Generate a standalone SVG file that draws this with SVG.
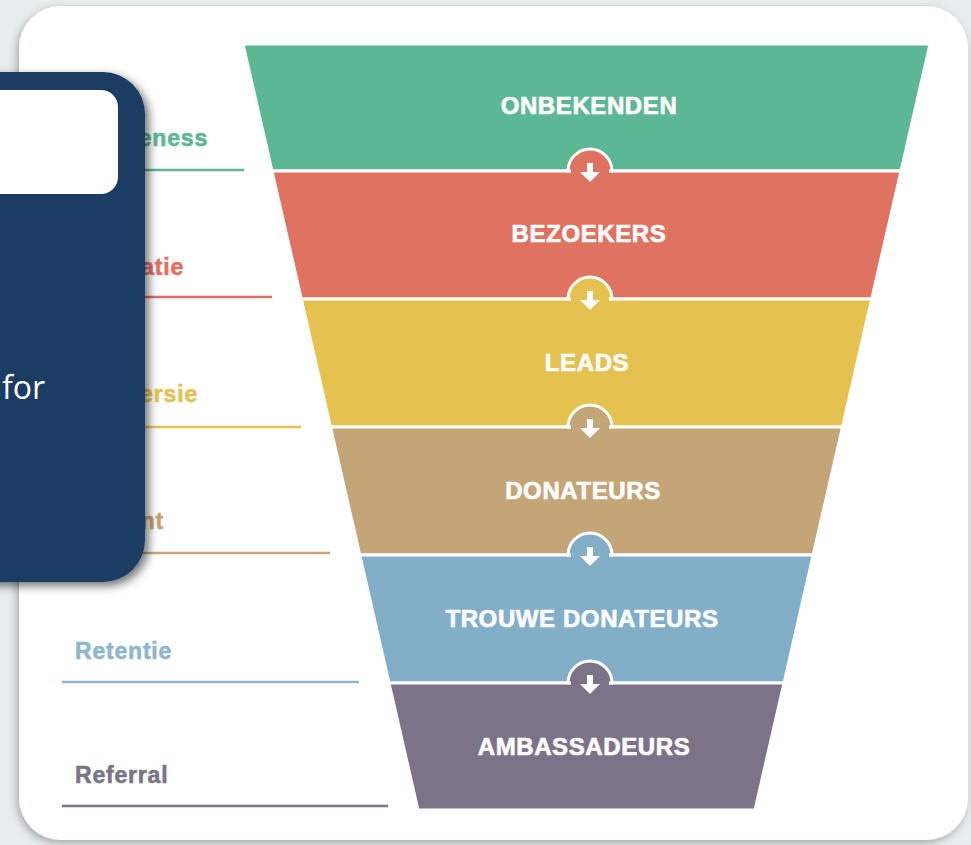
<svg xmlns="http://www.w3.org/2000/svg" width="971" height="845" viewBox="0 0 971 845">
  <defs>
    <filter id="cardShadow" x="-5%" y="-5%" width="110%" height="110%">
      <feDropShadow dx="-2" dy="3" stdDeviation="4" flood-color="#000" flood-opacity="0.3"/>
    </filter>
    <filter id="panelShadow" x="-20%" y="-10%" width="140%" height="120%">
      <feDropShadow dx="4" dy="4" stdDeviation="5" flood-color="#000" flood-opacity="0.55"/>
    </filter>
  </defs>
  <style>
    .stage { stroke: #ffffff; stroke-width: 3; stroke-linejoin: miter; }
    .stage-label { font-family: "Liberation Sans", Arial, sans-serif; font-weight: bold; font-size: 24px; letter-spacing: 0.6px; fill: #fcfcfc; stroke: #fcfcfc; stroke-width: 0.7px; text-anchor: middle; }
    .side-label { font-family: "Liberation Sans", Arial, sans-serif; font-weight: bold; font-size: 23px; letter-spacing: 0.8px; stroke-width: 0.6px; }
    .rule { stroke-width: 2.5; fill: none; }
    .bump { stroke: #ffffff; stroke-width: 3; }
    .arrow { fill: #ffffff; }
    .green { fill: #5cb794; } .green-s { stroke: #5cb794; }
    .red { fill: #e07262; } .red-s { stroke: #e07262; }
    .yellow { fill: #e5c250; } .yellow-s { stroke: #e5c250; }
    .tan { fill: #c4a577; } .tan-s { stroke: #c4a577; }
    .blue { fill: #82aec7; } .blue-s { stroke: #8fb6cb; }
    .purple { fill: #7c7389; } .purple-s { stroke: #7a7584; }
  </style>

  <!-- page background and card -->
  <rect x="0" y="0" width="971" height="845" fill="#e8eded"/>
  <rect x="19" y="6" width="949" height="834" rx="42" ry="42" fill="#ffffff" filter="url(#cardShadow)"/>

  <!-- side labels with rules -->
  <g id="side-labels">
    <text class="side-label green-s" x="208" y="146" text-anchor="end" fill="#5cb794">eness</text>
    <line class="rule green-s" x1="62" y1="170" x2="244" y2="170"/>
    <text class="side-label red-s" x="184" y="275" text-anchor="end" fill="#e07262">atie</text>
    <line class="rule red-s" x1="62" y1="297" x2="272" y2="297"/>
    <text class="side-label yellow-s" x="198" y="402" text-anchor="end" fill="#e5c250">ersie</text>
    <line class="rule yellow-s" x1="62" y1="427" x2="301" y2="427"/>
    <text class="side-label tan-s" x="164" y="529" text-anchor="end" fill="#c4a577">nt</text>
    <line class="rule tan-s" x1="62" y1="553" x2="330" y2="553"/>
    <text class="side-label blue-s" x="75" y="659" fill="#8fb6cb">Retentie</text>
    <line class="rule blue-s" x1="62" y1="682" x2="359" y2="682"/>
    <text class="side-label purple-s" x="75" y="783" fill="#7a7584">Referral</text>
    <line class="rule purple-s" x1="62" y1="806" x2="388" y2="806"/>
  </g>

  <!-- funnel stages -->
  <g id="stage-onbekenden">
    <polygon class="stage green" points="243,44 930,44 901,171 272,171"/>
    <text class="stage-label" x="589" y="114">ONBEKENDEN</text>
  </g>
  <g id="stage-bezoekers">
    <polygon class="stage red" points="272,171 901,171 871.7,299 301.3,299"/>
    <text class="stage-label" x="589" y="242">BEZOEKERS</text>
  </g>
  <g id="stage-leads">
    <polygon class="stage yellow" points="301.3,299 871.7,299 842.5,427 330.5,427"/>
    <text class="stage-label" x="587" y="371">LEADS</text>
  </g>
  <g id="stage-donateurs">
    <polygon class="stage tan" points="330.5,427 842.5,427 813.2,555 359.8,555"/>
    <text class="stage-label" x="583" y="499">DONATEURS</text>
  </g>
  <g id="stage-trouwe-donateurs">
    <polygon class="stage blue" points="359.8,555 813.2,555 784,683 389,683"/>
    <text class="stage-label" x="582" y="627">TROUWE DONATEURS</text>
  </g>
  <g id="stage-ambassadeurs">
    <polygon class="stage purple" points="389,683 784,683 755,810 418,810"/>
    <text class="stage-label" x="584" y="755">AMBASSADEURS</text>
  </g>

  <!-- connectors: arrow bumps between stages -->
  <g id="connectors">
    <g transform="translate(0,171)">
      <path class="bump red" d="M568 0 A22 22 0 0 1 612 0 Z"/>
      <rect class="red" x="571" y="-2" width="38" height="4"/>
      <rect class="arrow" x="587" y="-8" width="6" height="9"/>
      <polygon class="arrow" points="580,1 600,1 590,11"/>
    </g>
    <g transform="translate(0,299)">
      <path class="bump yellow" d="M568 0 A22 22 0 0 1 612 0 Z"/>
      <rect class="yellow" x="571" y="-2" width="38" height="4"/>
      <rect class="arrow" x="587" y="-8" width="6" height="9"/>
      <polygon class="arrow" points="580,1 600,1 590,11"/>
    </g>
    <g transform="translate(0,427)">
      <path class="bump tan" d="M568 0 A22 22 0 0 1 612 0 Z"/>
      <rect class="tan" x="571" y="-2" width="38" height="4"/>
      <rect class="arrow" x="587" y="-8" width="6" height="9"/>
      <polygon class="arrow" points="580,1 600,1 590,11"/>
    </g>
    <g transform="translate(0,555)">
      <path class="bump blue" d="M568 0 A22 22 0 0 1 612 0 Z"/>
      <rect class="blue" x="571" y="-2" width="38" height="4"/>
      <rect class="arrow" x="587" y="-8" width="6" height="9"/>
      <polygon class="arrow" points="580,1 600,1 590,11"/>
    </g>
    <g transform="translate(0,683)">
      <path class="bump purple" d="M568 0 A22 22 0 0 1 612 0 Z"/>
      <rect class="purple" x="571" y="-2" width="38" height="4"/>
      <rect class="arrow" x="587" y="-8" width="6" height="9"/>
      <polygon class="arrow" points="580,1 600,1 590,11"/>
    </g>
  </g>

  <!-- overlay panel on the left -->
  <g id="overlay-panel">
    <rect x="-60" y="72" width="205" height="510" rx="42" ry="42" fill="#1f3d63" filter="url(#panelShadow)"/>
    <rect x="-40" y="90" width="158" height="104" rx="17" ry="17" fill="#ffffff"/>
    <text x="2" y="399" font-family="'Open Sans', 'Liberation Sans', sans-serif" font-size="32" fill="#ffffff">for</text>
  </g>
</svg>
